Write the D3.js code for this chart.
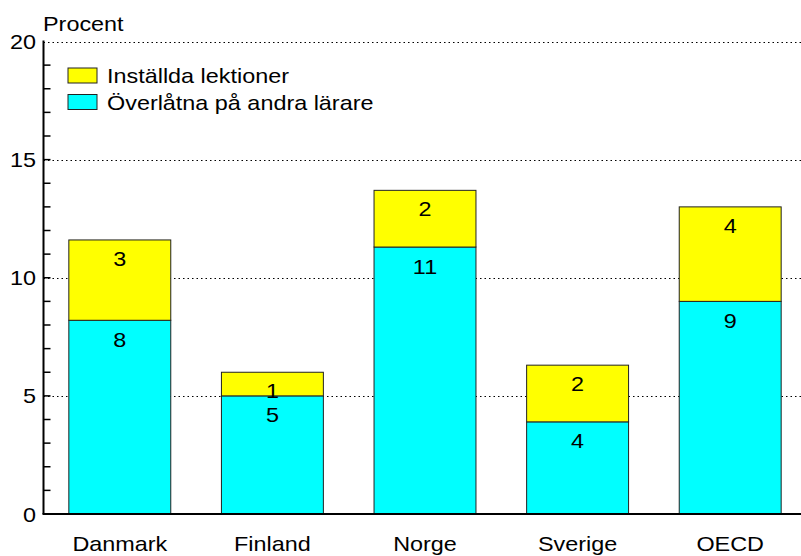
<!DOCTYPE html>
<html>
<head>
<meta charset="utf-8">
<script src="https://cdn.jsdelivr.net/npm/d3@7"></script>
<style>
  html, body { margin: 0; padding: 0; background: #fff; }
  svg { display: block; }
  text { font-family: "Liberation Sans", Arial, Helvetica, sans-serif; fill: #000; }
</style>
</head>
<body>
<svg id="chart" width="801" height="556"></svg>
<script>
// ---- data ----
const categories = ["Danmark", "Finland", "Norge", "Sverige", "OECD"];
const overlatna = [8.2, 5.0, 11.3, 3.9, 9.0];   // Överlåtna på andra lärare (bottom)
const installda = [3.4, 1.0, 2.4, 2.4, 4.0];    // Inställda lektioner (top)
const seriesNames = ["Inställda lektioner", "Överlåtna på andra lärare"];
const seriesColors = ["#ffff00", "#00ffff"];
const yTicks = [0, 5, 10, 15, 20];
const yLabel = "Procent";

// ---- layout ----
const W = 801, H = 556;
const x0 = 43.5, x1 = 806.5, yBase = 514, yTop = 41.5;
const SX = 1.17, FS = 20;

const svg = d3.select("#chart");
const x = d3.scaleBand().domain(categories).range([x0, x1]).padding(0);
const y = d3.scaleLinear().domain([0, 20]).range([yBase, yTop]);
const barW = x.bandwidth() * 0.668;

function stretchedText(g, str, px, py, anchor) {
  return g.append("text")
    .attr("transform", `translate(${px},${py}) scale(${SX},1)`)
    .attr("text-anchor", anchor || "start")
    .style("font-size", FS + "px")
    .text(str);
}

// gridlines
svg.append("g").selectAll("line").data(yTicks.filter(d => d > 0)).join("line")
  .attr("x1", x0).attr("x2", W)
  .attr("y1", d => Math.round(y(d)) + 0.5).attr("y2", d => Math.round(y(d)) + 0.5)
  .attr("stroke", "#000").attr("stroke-width", 1)
  .attr("stroke-dasharray", "1.5,3");

// bars
const stackData = categories.map((c, i) => ({ c, a: overlatna[i], b: installda[i] }));
const bars = svg.append("g");
stackData.forEach(d => {
  const cx = x(d.c) + x.bandwidth() / 2;
  const left = cx - barW / 2;
  // bottom cyan
  bars.append("rect")
    .attr("x", left).attr("width", barW)
    .attr("y", y(d.a)).attr("height", y(0) - y(d.a))
    .attr("fill", seriesColors[1]).attr("stroke", "#222").attr("stroke-width", 1);
  // top yellow
  bars.append("rect")
    .attr("x", left).attr("width", barW)
    .attr("y", y(d.a + d.b)).attr("height", y(d.a) - y(d.a + d.b))
    .attr("fill", seriesColors[0]).attr("stroke", "#222").attr("stroke-width", 1);
  stretchedText(bars, Math.round(d.b), cx, y(d.a + d.b) + 26, "middle");
  stretchedText(bars, Math.round(d.a), cx, y(d.a) + 26.5, "middle");
});

// y axis (custom: minor ticks inside)
const axisG = svg.append("g");
axisG.append("line").attr("x1", x0).attr("x2", x0).attr("y1", yTop - 1).attr("y2", yBase)
  .attr("stroke", "#000").attr("stroke-width", 2);
axisG.selectAll("line.minor").data(d3.range(1, 20)).join("line").attr("class", "minor")
  .attr("x1", x0).attr("x2", x0 + 7)
  .attr("y1", d => y(d)).attr("y2", d => y(d))
  .attr("stroke", "#000").attr("stroke-width", 1.5);
yTicks.forEach(t => stretchedText(axisG, t, 36, y(t) + 7.5, "end"));

// x baseline
svg.append("line").attr("x1", x0 - 1).attr("x2", W).attr("y1", yBase).attr("y2", yBase)
  .attr("stroke", "#000").attr("stroke-width", 2);

// x labels
categories.forEach(c => stretchedText(svg, c, x(c) + x.bandwidth() / 2, 551, "middle"));

// y label
stretchedText(svg, yLabel, 43, 31, "start");

// legend
const leg = svg.append("g");
seriesNames.forEach((n, i) => {
  const ly = 68 + i * 26.5;
  leg.append("rect").attr("x", 68).attr("y", ly).attr("width", 29).attr("height", 15)
    .attr("fill", seriesColors[i]).attr("stroke", "#222").attr("stroke-width", 1);
  stretchedText(leg, n, 107, ly + 15, "start");
});
</script>
</body>
</html>
